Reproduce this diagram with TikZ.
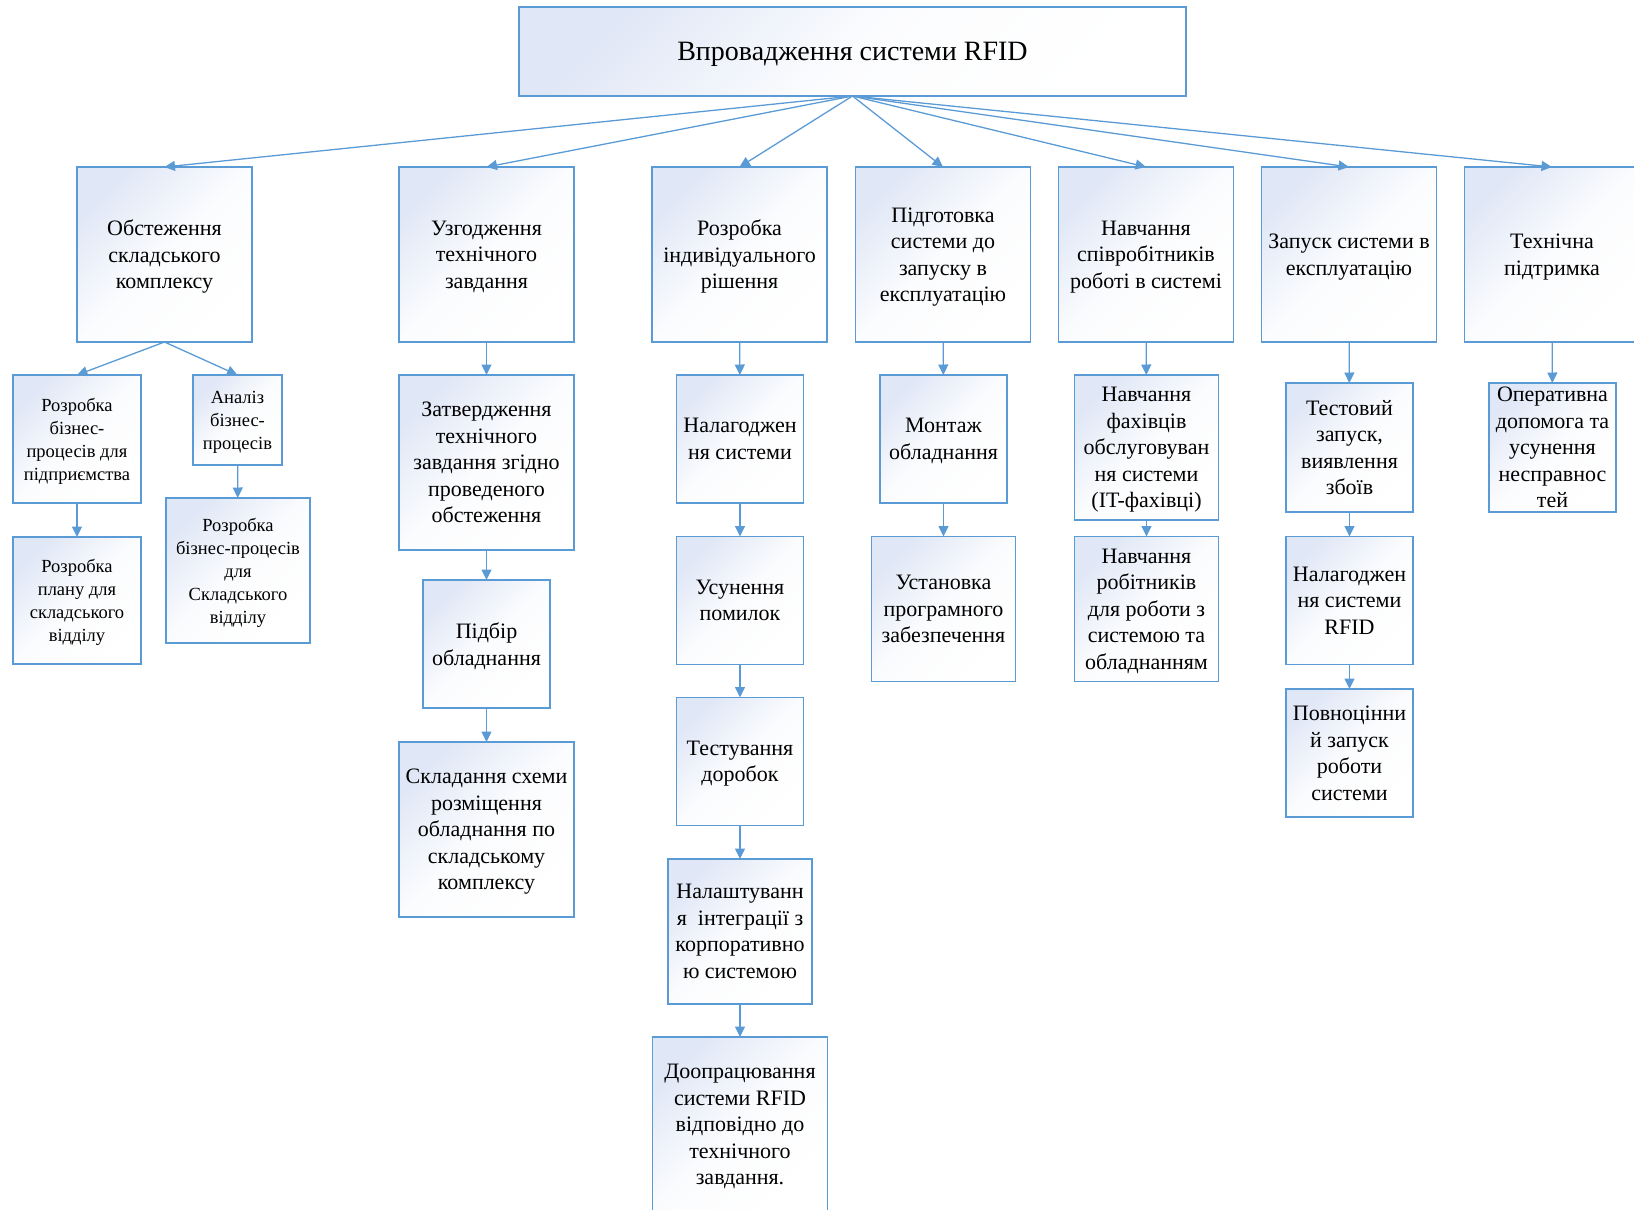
\documentclass[tikz,border=0pt]{standalone}
\usepackage{fontspec}
\setmainfont{Liberation Serif}
\usetikzlibrary{arrows.meta}

\definecolor{rfidline}{RGB}{91,155,213}
\definecolor{rfidtint}{RGB}{224,231,246}

\tikzset{
    blk/.style={
        draw=rfidline,
        line width=1.2pt,
        top color=rfidtint,
        bottom color=white,
        middle color=white!88!rfidtint,
        shading angle=45,
        inner sep=0pt,
        outer sep=0pt,
        align=center,
        text depth=0pt,
        font=\fontsize{22}{26.5}\selectfont
    },
    rootbox/.style={blk, minimum width=667pt, minimum height=89pt,
        font=\fontsize{28}{32}\selectfont},
    bigbox/.style={blk, minimum width=175pt, minimum height=175pt},
    midbox/.style={blk, minimum width=144pt, minimum height=145pt},
    sqbox/.style={blk, minimum width=127pt, minimum height=128pt},
    smallbox/.style={sqbox, minimum width=128pt,
        font=\fontsize{18.5}{23}\selectfont},
    link/.style={
        color=rfidline,
        line width=1.3pt,
        -{Triangle[length=10.5pt,width=10pt]}
    }
}

\begin{document}
\begin{tikzpicture}[x=1pt,y=-1pt]
\useasboundingbox (0,0) rectangle (1634,1210);
		\path
			node[rootbox] at (852.5,51.5) (root) {Впровадження системи RFID}
			;
		\path 	(164.5,254.5)
			node[bigbox](obst){Обстеження\\складського\\комплексу}
			++(322,0) node[bigbox](uzg){Узгодження\\технічного\\завдання}
			++(253,0) node[bigbox](rozr){Розробка\\індивідуального\\рішення}
			++(203.5,0) node[bigbox](pidg){Підготовка\\системи до\\запуску в\\експлуатацію}
			++(203,0) node[bigbox](navch){Навчання\\співробітників\\роботі в системі}
			++(203,0) node[bigbox](zap){Запуск системи в\\експлуатацію}
			++(203,0) node[bigbox](tekh){Технічна\\підтримка}
			;
		% обстеження
		\path
			node[smallbox] at (77,439) (bpp){Розробка\\бізнес-\\процесів для\\підприємства}
			node[smallbox, minimum width=89pt, minimum height=90pt] at (237.5,420) (anbp){Аналіз\\бізнес-\\процесів}
			node[smallbox, minimum height=127pt] at (77,600.5) (plan){Розробка\\плану для\\складського\\відділу}
			node[midbox, font=\fontsize{18.5}{23}\selectfont] at (238,570.5) (bpsk){Розробка\\бізнес-процесів\\для\\Складського\\відділу}
			;
		% узгодження
		\path
			node[bigbox] at (486.5,462.5) (zatv){Затвердження\\технічного\\завдання згідно\\проведеного\\обстеження}
			node[sqbox] at (486.5,644) (pidb){Підбір\\обладнання}
			node[bigbox] at (486.5,829.5) (skl){Складання схеми\\розміщення\\обладнання по\\складському\\комплексу}
			;
		% розробка рішення
		\path
			node[sqbox] at (740,439) (nal){Налагоджен\\ня системи}
			node[sqbox] at (740,600.5) (usun){Усунення\\помилок}
			node[sqbox] at (740,761.5) (test){Тестування\\доробок}
			node[midbox] at (740,931.5) (integ){Налаштуванн\\я\ \ інтеграції з\\корпоративно\\ю системою}
			node[bigbox] at (740,1124.5) (doopr){Доопрацювання\\системи RFID\\відповідно до\\технічного\\завдання.}
			;
		% підготовка
		\path
			node[sqbox] at (943.5,439) (mont){Монтаж\\обладнання}
			node[midbox] at (943.5,609) (ust){Установка\\програмного\\забезпечення}
			;
		% навчання
		\path
			node[midbox] at (1146.5,447.5) (fakh){Навчання\\фахівців\\обслуговуван\\ня системи\\(IT-фахівці)}
			node[midbox] at (1146.5,609) (robit){Навчання\\робітників\\для роботи з\\системою та\\обладнанням}
			;
		% запуск
		\path
			node[sqbox, minimum height=129pt] at (1349.5,447.5) (testz){Тестовий\\запуск,\\виявлення\\збоїв}
			node[sqbox] at (1349.5,600.5) (nalr){Налагоджен\\ня системи\\RFID}
			node[sqbox] at (1349.5,753) (povn){Повноцінни\\й запуск\\роботи\\системи}
			;
		% підтримка
		\path
			node[sqbox, minimum height=129pt] at (1552.5,447.5) (oper){Оперативна\\допомога та\\усунення\\несправнос\\тей}
			;

		\path [link]
			(root.south) edge (obst.north)
			(root.south) edge (uzg.north)
			(root.south) edge (rozr.north)
			(root.south) edge (pidg.north)
			(root.south) edge (navch.north)
			(root.south) edge (zap.north)
			(root.south) edge (tekh.north)
			;
		\path [link]
			(obst.south) edge (bpp.north)
			(obst.south) edge (anbp.north)
			(bpp) edge (plan)
			(anbp) edge (bpsk)
			(uzg) edge (zatv)
			(zatv) edge (pidb)
			(pidb) edge (skl)
			(rozr) edge (nal)
			(nal) edge (usun)
			(usun) edge (test)
			(test) edge (integ)
			(integ) edge (doopr)
			(pidg) edge (mont)
			(mont) edge (ust)
			(navch) edge (fakh)
			(fakh) edge (robit)
			(zap) edge (testz)
			(testz) edge (nalr)
			(nalr) edge (povn)
			(tekh) edge (oper)
			;
\end{tikzpicture}
\end{document}
